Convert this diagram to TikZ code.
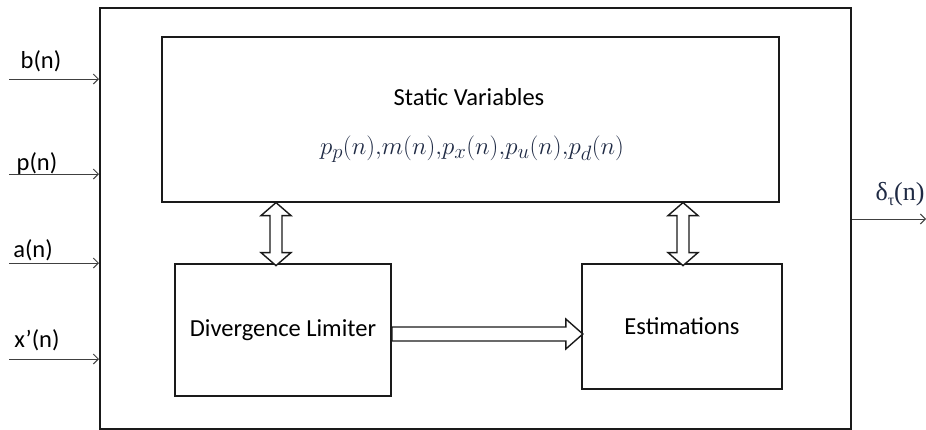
\documentclass[tikz,border=0pt]{standalone}
\usepackage{fontspec}
\setmainfont{Carlito}
\newfontfamily\greekserif{Liberation Serif}
\usetikzlibrary{arrows.meta}
\definecolor{edge}{HTML}{1A1A1A}
\definecolor{thin}{HTML}{404040}
\definecolor{mathcol}{HTML}{1F2A44}
\begin{document}
\begin{tikzpicture}[x=1pt,y=-1pt,
  box/.style={draw=edge, line width=1.6pt, inner sep=0pt, font=\fontsize{24.5}{28}\selectfont},
  inarr/.style={draw=thin, line width=1pt, -{Straight Barb[length=5pt,width=10pt]}},
  fat/.style={draw=edge, line width=1.4pt, fill=white, line join=miter},
  lbl/.style={font=\fontsize{24.5}{28}\selectfont, inner sep=0pt}]
\useasboundingbox (0,0) rectangle (926,429);
% outer block
\node[draw=edge, line width=2pt, anchor=north west, minimum width=751pt, minimum height=421pt, inner sep=0pt] (outer) at (99,7) {};
% static variables
\node[box, anchor=north west, minimum width=617pt, minimum height=165pt] (static) at (161,36) {};
\node[lbl] (svt) at (469,97) {Static Variables};
\node[font=\fontsize{28.5}{32}\selectfont, text=mathcol, inner sep=0pt] (svm) at (472,149) {$p_p(n){,}m(n){,}p_x(n){,}p_u(n){,}p_d(n)$};
% lower blocks
\node[box, minimum width=216pt, minimum height=132pt] (dl) at (283,330) {Divergence Limiter};
\node[box, minimum width=200pt, minimum height=125pt] (est) at (682,326.5) {Estimations};
% double arrows
\coordinate (ax1) at (276,0);
\coordinate (ax2) at (683,0);
\draw[fat] (static.south -| ax1) -- ++(15,13) -- ++(-9,0) -- ++(0,37) -- ++(9,0) -- ++(-15,13) -- ++(-15,-13) -- ++(9,0) -- ++(0,-37) -- ++(-9,0) -- cycle;
\draw[fat] (static.south -| ax2) -- ++(15,13) -- ++(-9,0) -- ++(0,37) -- ++(9,0) -- ++(-15,13) -- ++(-15,-13) -- ++(9,0) -- ++(0,-37) -- ++(-9,0) -- cycle;
% horizontal fat arrow
\coordinate (hy) at (0,334);
\draw[fat] (dl.east |- hy) ++(0,-7) -- ++(174,0) -- ++(0,-8) -- ++(17,15) -- ++(-17,15) -- ++(0,-8) -- ++(-174,0) -- cycle;
% inputs
\coordinate (i1) at (9,79);
\coordinate (i2) at (9,174);
\coordinate (i3) at (9,263);
\coordinate (i4) at (9,359);
\draw[inarr] (i1) -- (i1 -| outer.west);
\draw[inarr] (i2) -- (i2 -| outer.west);
\draw[inarr] (i3) -- (i3 -| outer.west);
\draw[inarr] (i4) -- (i4 -| outer.west);
\node[lbl] (lb) at (41,61) {b(n)};
\node[lbl] (lp) at (37,164) {p(n)};
\node[lbl] (la) at (33,250) {a(n)};
\node[lbl] (lx) at (37,340) {x’(n)};
% output
\coordinate (o1) at (926,219);
\draw[inarr] (o1 -| outer.east) -- (o1);
\node[font=\greekserif\fontsize{26}{28}\selectfont, text=mathcol, inner sep=0pt] (lo) at (900,194) {δ\raisebox{-0.22em}{\fontsize{16}{16}\selectfont τ}(n)};
\end{tikzpicture}
\end{document}
